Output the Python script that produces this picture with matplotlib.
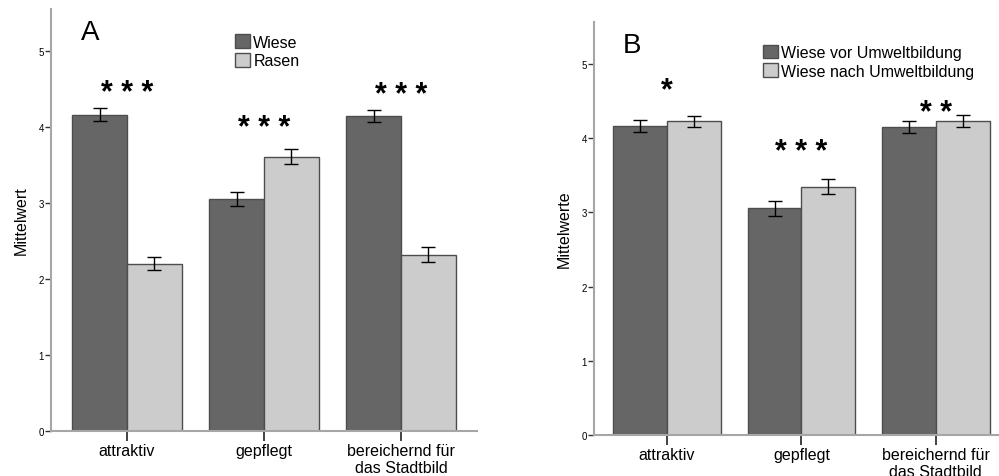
import numpy as np
import matplotlib.pyplot as plt
from matplotlib.patches import Patch
from matplotlib.transforms import offset_copy

plt.rcParams['font.family'] = ['Liberation Sans', 'DejaVu Sans']

categories = ['attraktiv', 'gepflegt', 'bereichernd für\ndas Stadtbild']

# panel A
a_labels = ['Wiese', 'Rasen']
a_wiese = [4.16, 3.05, 4.14]
a_wiese_err = [0.085, 0.095, 0.08]
a_rasen = [2.20, 3.61, 2.32]
a_rasen_err = [0.085, 0.095, 0.10]
a_stars = ['* * *', '* * *', '* * *']
a_star_y = [4.54, 4.08, 4.51]

# panel B
b_labels = ['Wiese vor Umweltbildung', 'Wiese nach Umweltbildung']
b_vor = [4.17, 3.055, 4.15]
b_vor_err = [0.08, 0.105, 0.08]
b_nach = [4.23, 3.35, 4.23]
b_nach_err = [0.075, 0.10, 0.08]
b_stars = ['*', '* * *', '* *']
b_star_y = [4.74, 3.91, 4.43]

dark = '#666666'
light = '#cccccc'
edge = '#4d4d4d'
spine = '#a6a6a6'


def panel(ax, s1, e1, s2, e2, labels, stars, star_y, ylabel, letter, leg_xy, xlim, ylim):
    x = np.arange(len(categories))
    w = 0.4
    ax.bar(x - w / 2, s1, w, color=dark, edgecolor=edge, linewidth=1)
    ax.bar(x + w / 2, s2, w, color=light, edgecolor=edge, linewidth=1)
    ax.errorbar(x - w / 2, s1, yerr=e1, fmt='none', ecolor='black', elinewidth=1, capsize=5, capthick=1)
    ax.errorbar(x + w / 2, s2, yerr=e2, fmt='none', ecolor='black', elinewidth=1, capsize=5, capthick=1)
    # asterisks sit high in the glyph box, shift them down a little
    tr = offset_copy(ax.transData, fig=ax.figure, x=0, y=-5, units='points')
    for xi, st, sy in zip(x, stars, star_y):
        ax.text(xi, sy, st, ha='center', va='center', fontsize=22, fontweight='bold', transform=tr)
    ax.set_xlim(*xlim)
    ax.set_ylim(*ylim)
    ax.set_xticks(x)
    ax.set_xticklabels(categories, fontsize=11.5, linespacing=1.2)
    ax.set_yticks(range(6))
    ax.tick_params(axis='y', labelsize=7, length=4, width=1, color='#333333', pad=1)
    ax.tick_params(axis='x', length=7, width=1.2, color='#222222', pad=1.5)
    for s in ['top', 'right']:
        ax.spines[s].set_visible(False)
    for s in ['left', 'bottom']:
        ax.spines[s].set_color(spine)
        ax.spines[s].set_linewidth(1.5)
    ax.set_ylabel(ylabel, fontsize=11.5, labelpad=7)
    ax.text(0.07, 0.945, letter, transform=ax.transAxes, fontsize=20, va='center', ha='left')
    handles = [Patch(facecolor=dark, edgecolor=edge), Patch(facecolor=light, edgecolor=edge)]
    ax.legend(handles, labels, loc='upper left', bbox_to_anchor=leg_xy, frameon=False,
              fontsize=11.5, handlelength=0.95, handleheight=0.95, handletextpad=0.2,
              labelspacing=0.2, borderpad=0, borderaxespad=0)


fig = plt.figure(figsize=(9.99, 4.77), dpi=100)
ax1 = fig.add_axes([0.051, 0.0943, 0.4265, 0.8847])
ax2 = fig.add_axes([0.5946, 0.086, 0.4054, 0.866])

panel(ax1, a_wiese, a_wiese_err, a_rasen, a_rasen_err, a_labels, a_stars, a_star_y,
      'Mittelwert', 'A', (0.432, 0.94), (-0.555, 2.555), (0, 5.55))
panel(ax2, b_vor, b_vor_err, b_nach, b_nach_err, b_labels, b_stars, b_star_y,
      'Mittelwerte', 'B', (0.417, 0.945), (-0.543, 2.47), (0, 5.57))

fig.savefig('out.png', dpi=100)
